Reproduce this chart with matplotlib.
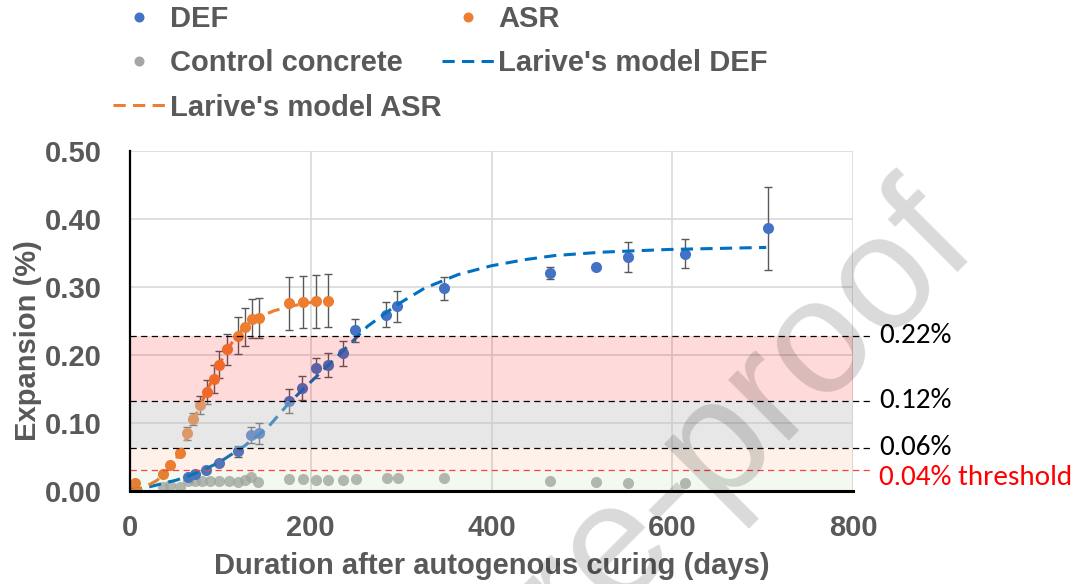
import numpy as np
import matplotlib
matplotlib.use('Agg')
import matplotlib.pyplot as plt
from matplotlib.lines import Line2D
from matplotlib import font_manager as fm

# fonts
names = {f.name for f in fm.fontManager.ttflist}
side_font = 'Carlito' if 'Carlito' in names else 'Lato'
plt.rcParams['font.family'] = ['Liberation Sans', 'DejaVu Sans']

# DEF measurements (days, %) + error
def_t = [0, 63.7, 71.5, 84, 99, 119.6, 134.4, 142.6, 176, 190.7, 205.6, 219, 235.5, 249,
         283, 295.5, 347, 465, 516, 551, 614, 706]
def_e = [0, 0.020, 0.024, 0.030, 0.041, 0.058, 0.082, 0.084, 0.132, 0.151, 0.180, 0.185,
         0.202, 0.236, 0.259, 0.271, 0.298, 0.320, 0.329, 0.344, 0.349, 0.386]
def_err = [0, 0, 0, 0, 0, 0.008, 0.012, 0.015, 0.018, 0.018, 0.015, 0.018, 0.018, 0.017,
           0.018, 0.023, 0.017, 0.009, 0.003, 0.022, 0.022, 0.061]

# ASR measurements
asr_t = [5.6, 36, 44, 55.6, 63, 70, 77, 85, 92.6, 99, 107, 120, 127, 135, 143,
         176, 191, 205.6, 219]
asr_e = [0.0115, 0.024, 0.037, 0.055, 0.084, 0.105, 0.126, 0.145, 0.164, 0.185, 0.208,
         0.228, 0.241, 0.253, 0.254, 0.276, 0.278, 0.2785, 0.2795]
asr_err = [0, 0, 0, 0, 0.009, 0.009, 0.013, 0.018, 0.021, 0.020, 0.023, 0.027, 0.028,
           0.029, 0.030, 0.039, 0.038, 0.039, 0.039]

# control concrete
ctl_t = [2, 37, 44.4, 55.6, 63.7, 71.5, 79.6, 88.9, 98, 109, 120, 127.8, 134, 142,
         176, 191, 205.6, 219, 235.5, 250, 284, 296, 347, 465, 516, 551, 614]
ctl_e = [0, 0.0056, 0.008, 0.0056, 0.0145, 0.0145, 0.0145, 0.0145, 0.0145, 0.0145, 0.013,
         0.0155, 0.0195, 0.013, 0.017, 0.017, 0.0155, 0.0155, 0.0155, 0.0165, 0.019, 0.019,
         0.019, 0.0145, 0.013, 0.0115, 0.0115]

# Larive's model curves
mdef_t = [0, 22, 52, 78, 100, 126, 152, 176, 204, 233, 263, 296, 326, 363, 400, 437,
          470, 522, 596, 704]
mdef_e = [0, 0.0056, 0.0155, 0.028, 0.0425, 0.065, 0.092, 0.129, 0.165, 0.202, 0.242,
          0.274, 0.298, 0.318, 0.331, 0.340, 0.346, 0.351, 0.355, 0.358]
masr_t = [0, 15, 30, 45, 55, 65, 75, 85, 95, 105, 115, 125, 135, 145, 160, 180, 200, 220]
masr_e = [0, 0.004, 0.015, 0.035, 0.055, 0.085, 0.118, 0.146, 0.174, 0.202, 0.222, 0.238,
          0.250, 0.257, 0.265, 0.272, 0.277, 0.280]

# limit bands
lims = [0.030, 0.063, 0.132, 0.228]
lim_txt = ['0.04% threshold', '0.06%', '0.12%', '0.22%']

c_def, c_asr, c_ctl = '#4472C4', '#ED7D31', '#A5A5A5'
c_mdef = '#0070C0'
txt_c = '#595959'

fig = plt.figure(figsize=(10.76, 5.84), dpi=100)
ax = fig.add_axes([130/1076, 1-490.5/584, 723/1076, 339.5/584])

ax.set_xlim(0, 800)
ax.set_ylim(0, 0.5)
ax.set_xticks([0, 200, 400, 600, 800])
ax.set_yticks(np.arange(0, 0.51, 0.1))
ax.set_yticklabels(['%.2f' % v for v in np.arange(0, 0.51, 0.1)])
ax.grid(True, color='#D9D9D9', lw=1.2, zorder=0)
ax.set_axisbelow(True)
for s in ['top', 'right']:
    ax.spines[s].set_visible(False)
ax.spines['left'].set_linewidth(1.6)
ax.spines['bottom'].set_linewidth(2.2)
ax.spines['left'].set_zorder(6)
ax.spines['bottom'].set_zorder(6)
ax.tick_params(length=0, labelsize=21, labelcolor=txt_c)
ax.tick_params(axis='x', pad=17)
ax.tick_params(axis='y', pad=20)
for lb in ax.get_xticklabels() + ax.get_yticklabels():
    lb.set_fontweight('bold')

ms = 8
dash = (0, (4, 2.4))
ax.plot(ctl_t, ctl_e, 'o', color=c_ctl, ms=ms, mec='none', alpha=0.8, zorder=2)
ax.errorbar(def_t, def_e, yerr=def_err, fmt='o', color=c_def, ms=ms, mec='none',
            ecolor='#595959', elinewidth=1, capsize=3, capthick=1, zorder=3)
ax.errorbar(asr_t, asr_e, yerr=asr_err, fmt='o', color=c_asr, ms=ms, mec='none',
            ecolor='#595959', elinewidth=1, capsize=3, capthick=1, zorder=3)
ax.plot(mdef_t, mdef_e, color=c_mdef, lw=2.2, ls=dash, zorder=4)
ax.plot(masr_t, masr_e, color=c_asr, lw=2.2, ls=dash, zorder=4)

# translucent bands on top of the data
ax.axhspan(0, lims[0], color=(112/255, 173/255, 71/255), alpha=0.08, lw=0, zorder=5)
ax.axhspan(lims[0], lims[1], color=c_asr, alpha=0.1, lw=0, zorder=5)
ax.axhspan(lims[1], lims[2], color=(195/255, 195/255, 195/255), alpha=0.4, lw=0, zorder=5)
ax.axhspan(lims[2], lims[3], color='red', alpha=0.145, lw=0, zorder=5)

for i, v in enumerate(lims):
    col = '#FF4040' if i == 0 else 'k'
    ax.plot([0, 820], [v, v], color=col, lw=0.9, ls=(0, (5, 3.5)), zorder=5.5, clip_on=False)
    dy = -0.011 if i == 0 else 0
    ax.text(829, v + dy, lim_txt[i], fontsize=21, family=[side_font, 'DejaVu Sans'],
            color='red' if i == 0 else 'black', va='center', ha='left', clip_on=False)

ax.set_xlabel('Duration after autogenous curing (days)', fontsize=21, fontweight='bold',
              color=txt_c)
ax.set_ylabel('Expansion (%)', fontsize=21, fontweight='bold', color=txt_c)
ax.xaxis.set_label_coords(0.5, -0.222)
ax.xaxis.label.set_va('center')
ax.yaxis.set_label_coords(-0.141, 0.443)
ax.yaxis.label.set_va('center')

handles = [
    Line2D([], [], ls='none', marker='o', color=c_def, ms=7.2, mec='none'),
    Line2D([], [], ls='none', marker='o', color=c_ctl, ms=7.2, mec='none'),
    Line2D([], [], color=c_asr, lw=2.2, ls=dash),
    Line2D([], [], ls='none', marker='o', color=c_asr, ms=7.2, mec='none'),
    Line2D([], [], color=c_mdef, lw=2.2, ls=dash),
]
labels = ['DEF', 'Control concrete', "Larive's model ASR", 'ASR', "Larive's model DEF"]
leg = fig.legend(handles, labels, loc='upper left', bbox_to_anchor=(113/1076, 1-5/584),
                 ncol=2, frameon=False, borderpad=0, borderaxespad=0, handlelength=1.8,
                 handletextpad=0.15, columnspacing=0.0, labelspacing=0.56,
                 prop={'family': 'Liberation Sans', 'weight': 'bold', 'size': 21})
for t in leg.get_texts():
    t.set_color(txt_c)

# watermark
fig.text(506/1076, 1-664/584, 'Journal Pre-proof', fontsize=117, rotation=45,
         color='k', alpha=0.15, ha='center', va='center', zorder=10)

fig.savefig('out.png', dpi=100)
